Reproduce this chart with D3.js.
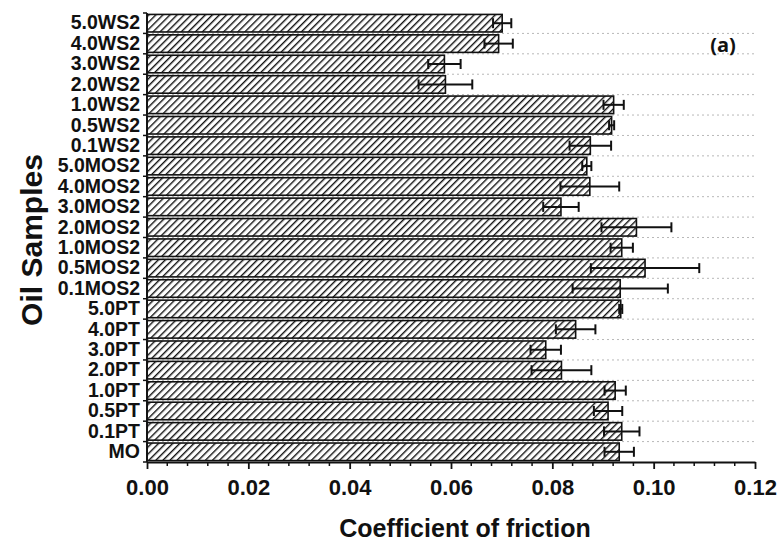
<!DOCTYPE html>
<html>
<head>
<meta charset="utf-8">
<script src="https://cdn.jsdelivr.net/npm/d3@7"></script>
<style>
  html, body { margin: 0; padding: 0; background: #fff; }
  svg { display: block; }
  text { font-family: "Liberation Sans", Arial, sans-serif; font-weight: bold; fill: #111; }
</style>
</head>
<body>
<svg id="chart" width="783" height="550"></svg>
<script>
// Oil samples, listed top to bottom
const samples = ["5.0WS2", "4.0WS2", "3.0WS2", "2.0WS2", "1.0WS2", "0.5WS2", "0.1WS2",
  "5.0MOS2", "4.0MOS2", "3.0MOS2", "2.0MOS2", "1.0MOS2", "0.5MOS2", "0.1MOS2",
  "5.0PT", "4.0PT", "3.0PT", "2.0PT", "1.0PT", "0.5PT", "0.1PT", "MO"];

// Mean coefficient of friction per sample
const friction = [0.0701, 0.0694, 0.0587, 0.0589, 0.0921, 0.0917, 0.0875,
  0.0868, 0.0874, 0.0817, 0.0966, 0.0937, 0.0983, 0.0934,
  0.0935, 0.0846, 0.0787, 0.0818, 0.0924, 0.0910, 0.0937, 0.0932];

// Standard deviation per sample
const frictionErr = [0.0018, 0.0028, 0.0032, 0.0053, 0.0020, 0.0005, 0.0041,
  0.0009, 0.0058, 0.0035, 0.0069, 0.0022, 0.0107, 0.0094,
  0.0003, 0.0039, 0.0030, 0.0059, 0.0021, 0.0028, 0.0035, 0.0029];

const xMajorTicks = [0.00, 0.02, 0.04, 0.06, 0.08, 0.10, 0.12];

const rows = samples.map((s, i) => ({ name: s, v: friction[i], e: frictionErr[i] }));

const svg = d3.select("#chart");
const plotL = 147, plotR = 755, plotT = 13, plotB = 462;

const x = d3.scaleLinear().domain([0, 0.12]).range([plotL, plotR]);
const y = d3.scaleBand().domain(samples).range([plotT, plotB])
  .paddingInner(0.14).paddingOuter(0.07);

// Diagonal hatch fill
const defs = svg.append("defs");
const pat = defs.append("pattern")
  .attr("id", "hatch")
  .attr("patternUnits", "userSpaceOnUse")
  .attr("width", 5).attr("height", 5)
  .attr("patternTransform", "rotate(45)");
pat.append("rect").attr("width", 5).attr("height", 5).attr("fill", "#fff");
pat.append("line")
  .attr("x1", 0).attr("y1", 0).attr("x2", 0).attr("y2", 5)
  .attr("stroke", "#111").attr("stroke-width", 2.8);

// Dotted grid lines at the sample boundaries
const step = y.step();
const boundaries = d3.range(samples.length + 1).map(i => plotT + i * step);
svg.append("g").selectAll("line")
  .data(boundaries.slice(1, -1))
  .join("line")
  .attr("x1", plotL).attr("x2", plotR)
  .attr("y1", d => d).attr("y2", d => d)
  .attr("stroke", "#b8b8b8").attr("stroke-width", 1)
  .attr("stroke-dasharray", "2,3");

// Bars
svg.append("g").selectAll("rect")
  .data(rows)
  .join("rect")
  .attr("x", x(0))
  .attr("y", d => y(d.name))
  .attr("width", d => x(d.v) - x(0))
  .attr("height", y.bandwidth())
  .attr("fill", "url(#hatch)")
  .attr("stroke", "#111")
  .attr("stroke-width", 1.6);

// Error bars
const eb = svg.append("g").attr("stroke", "#111").attr("stroke-width", 2);
const capH = 5;
rows.forEach(d => {
  const cy = y(d.name) + y.bandwidth() / 2;
  const x0 = x(d.v - d.e), x1 = x(d.v + d.e);
  eb.append("line").attr("x1", x0).attr("x2", x1).attr("y1", cy).attr("y2", cy);
  eb.append("line").attr("x1", x0).attr("x2", x0).attr("y1", cy - capH).attr("y2", cy + capH);
  eb.append("line").attr("x1", x1).attr("x2", x1).attr("y1", cy - capH).attr("y2", cy + capH);
});

// X axis: major and minor ticks
const xAxis = svg.append("g").attr("transform", `translate(0,${plotB})`)
  .call(d3.axisBottom(x).tickValues(xMajorTicks).tickFormat(d3.format(".2f"))
    .tickSize(7).tickSizeOuter(0).tickPadding(10));
xAxis.select(".domain").attr("stroke", "#111").attr("stroke-width", 1.8);
xAxis.selectAll(".tick line").attr("stroke", "#111").attr("stroke-width", 1.8);
xAxis.selectAll(".tick text").style("font-size", "22px").attr("fill", "#111");

const minorTicks = d3.range(0, 0.1201, 0.004).filter(v => !xMajorTicks.some(m => Math.abs(m - v) < 1e-6));
svg.append("g").selectAll("line")
  .data(minorTicks)
  .join("line")
  .attr("x1", d => x(d)).attr("x2", d => x(d))
  .attr("y1", plotB).attr("y2", plotB + 4)
  .attr("stroke", "#111").attr("stroke-width", 1.5);

// Y axis: labels at band centres, ticks at boundaries
const yAxis = svg.append("g").attr("transform", `translate(${plotL},0)`)
  .call(d3.axisLeft(y).tickSize(0).tickPadding(7));
yAxis.select(".domain").remove();
yAxis.selectAll(".tick text").style("font-size", "19.5px").attr("fill", "#111");

svg.append("line")
  .attr("x1", plotL).attr("x2", plotL).attr("y1", plotT).attr("y2", plotB)
  .attr("stroke", "#111").attr("stroke-width", 1.8);
svg.append("g").selectAll("line")
  .data(boundaries)
  .join("line")
  .attr("x1", plotL - 4).attr("x2", plotL)
  .attr("y1", d => d).attr("y2", d => d)
  .attr("stroke", "#111").attr("stroke-width", 1.5);

// Axis titles
svg.append("text")
  .attr("x", 465).attr("y", 537)
  .attr("text-anchor", "middle")
  .style("font-size", "25px")
  .text("Coefficient of friction");

svg.append("text")
  .attr("transform", "translate(31,240) rotate(-90)")
  .attr("text-anchor", "middle")
  .attr("dominant-baseline", "central")
  .style("font-size", "30px")
  .text("Oil Samples");

// Panel label
svg.append("text")
  .attr("x", 723).attr("y", 52)
  .attr("text-anchor", "middle")
  .style("font-family", "'Open Sans', sans-serif")
  .style("font-size", "20px")
  .text("(a)");
</script>
</body>
</html>
